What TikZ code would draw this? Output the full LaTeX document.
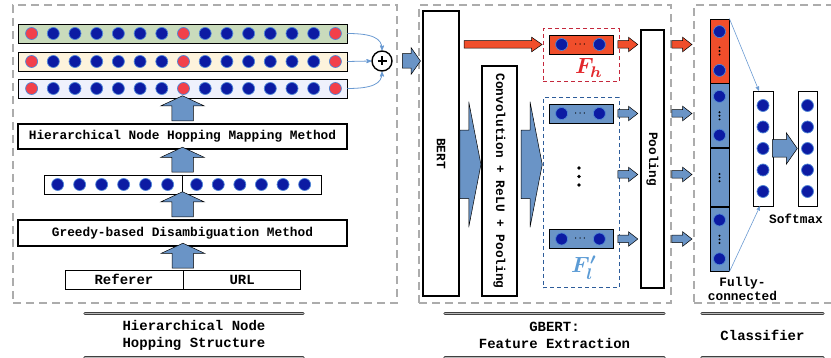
\documentclass[tikz,border=0pt]{standalone}
\usepackage{fontspec}
\setmonofont{Liberation Mono}
\usepackage{amsmath}
\usetikzlibrary{arrows,shapes.arrows,positioning,calc}

\definecolor{dotblue}{HTML}{0C1BA3}
\definecolor{dotring}{HTML}{4F86D6}
\definecolor{dotred}{HTML}{F2404A}
\definecolor{arrowblue}{HTML}{6A94C6}
\definecolor{hotred}{HTML}{F04E2B}
\definecolor{rowgreen}{HTML}{C9DBBC}
\definecolor{rowyellow}{HTML}{FDF3DC}
\definecolor{rowlilac}{HTML}{EFF1FC}
\definecolor{linkblue}{HTML}{6A9AD2}
\definecolor{fhred}{HTML}{C4283C}
\definecolor{fhtext}{HTML}{E3262B}
\definecolor{flblue}{HTML}{2D5C9A}
\definecolor{fltext}{HTML}{5B9BD5}

\tikzset{
  monotxt/.style={font=\fontsize{12.8}{14}\selectfont\ttfamily\bfseries},
  captxt/.style={font=\fontsize{14}{16.5}\selectfont\ttfamily\bfseries},
  dotb/.style={circle, fill=dotblue, draw=dotring, line width=0.7pt, minimum size=12pt, inner sep=0pt},
  dotr/.style={dotb, fill=dotred},
  vdot/.style={circle, fill=black, inner sep=0pt, minimum size=3.6pt},
  tdot/.style={circle, fill=black, inner sep=0pt, minimum size=2.2pt},
  rowbox/.style={draw, line width=0.8pt, minimum width=329pt, minimum height=19pt, inner sep=0pt},
  methodbox/.style={draw, line width=1.6pt, minimum width=329pt, minimum height=25pt, monotxt},
  plainbox/.style={draw, line width=0.7pt, inner sep=0pt},
  tallbox/.style={draw, line width=1.6pt, fill=white, inner sep=0pt},
  vecbox/.style={draw, line width=0.8pt, minimum width=64pt, minimum height=19pt, inner sep=0pt},
  segbox/.style={draw, line width=0.8pt, minimum width=19pt, inner sep=0pt},
  groupbox/.style={draw=gray!65, line width=1.3pt, dash pattern=on 8pt off 5pt, inner sep=0pt},
  fbox/.style={line width=1pt, dash pattern=on 4pt off 3pt, minimum width=76pt, inner sep=0pt},
  link/.style={->, draw=linkblue, line width=0.8pt},
  capline/.style={draw=black!75, line width=0.9pt, double=gray!55, double distance=1pt, line cap=round},
  barrow/.style={single arrow, draw, line width=0.5pt, fill=arrowblue, inner xsep=0pt, minimum width=0pt, single arrow head indent=0pt},
  uparrow/.style={barrow, rotate=90, inner ysep=10.5pt, single arrow head extend=11pt, minimum height=25pt, single arrow tip angle=130},
  wedge/.style={barrow, inner ysep=34pt, single arrow head extend=28.5pt, minimum height=21pt, single arrow tip angle=158},
  smallarrow/.style={barrow, inner ysep=3.5pt, single arrow head extend=3.5pt, minimum height=20pt, single arrow tip angle=76},
  longarrow/.style={barrow, fill=hotred, inner ysep=3.5pt, single arrow head extend=3.5pt, minimum height=78pt, single arrow tip angle=70},
  inarrow/.style={barrow, inner ysep=7pt, single arrow head extend=6pt, minimum height=18pt, single arrow tip angle=110},
  midarrow/.style={barrow, inner ysep=8.5pt, single arrow head extend=7pt, minimum height=25pt, single arrow tip angle=110}
}

\begin{document}
\begin{tikzpicture}[x=1pt, y=-1pt, >=stealth']
  \useasboundingbox (0,0) rectangle (831,358);

  % dashed groups
  \node[groupbox, minimum width=384pt, minimum height=298pt] (hns) at (205,154) {};
  \node[groupbox, minimum width=252pt, minimum height=298pt] (gbert) at (545,154) {};
  \node[groupbox, minimum width=220pt, minimum height=298pt] (cls) at (804,154) {};

  % hopping rows
  \node[rowbox, fill=rowgreen] (r1) at (182.5,33.5) {};
  \node[rowbox, fill=rowyellow] (r2) at (182.5,61.5) {};
  \node[rowbox, fill=rowlilac] (r3) at (182.5,88.5) {};
  \foreach \row in {r1,r2,r3} {
    \foreach \i in {2,3,4,5,6,7,9,10,11,12,13,14}
      \node[dotb] (\row-\i) at ($(\row.west)+({14+(\i-1)*21.7},0)$) {};
    \foreach \i in {1,8,15}
      \node[dotr] (\row-\i) at ($(\row.west)+({14+(\i-1)*21.7},0)$) {};
  }

  \node[circle, draw, line width=1.4pt, minimum size=20pt, inner sep=0pt] (plus) at (382,61) {};
  \draw[line width=1.8pt] ($(plus)+(-4.5,0)$) -- ($(plus)+(4.5,0)$) ($(plus)+(0,-4.5)$) -- ($(plus)+(0,4.5)$);
  \draw[link] (r1.east) .. controls +(25,0) and +(0,-12) .. (plus.north);
  \draw[link] (r2.east) -- (plus.west);
  \draw[link] (r3.east) .. controls +(25,0) and +(0,12) .. (plus.south);

  \node[methodbox] (hnhm) at (182.5,136.5) {Hierarchical Node Hopping Mapping Method};
  \node[plainbox, minimum width=277pt, minimum height=19pt] (seq) at (182.5,184.5) {};
  \draw[line width=0.7pt] (seq.north) -- (seq.south);
  \foreach \i in {1,...,6}
    \node[dotb] (s\i) at ($(seq.west)+({14+(\i-1)*22},0)$) {};
  \foreach \i in {7,...,12}
    \node[dotb] (s\i) at ($(seq.west)+({153+(\i-7)*21.6},0)$) {};
  \node[methodbox, minimum height=26pt] (greedy) at (182.5,233) {Greedy-based Disambiguation Method};
  \node[plainbox, captxt, minimum width=118pt, minimum height=19pt] (ref) at (124,279.5) {Referer};
  \node[plainbox, captxt, minimum width=117pt, minimum height=19pt, right=0pt of ref] (url) {URL};

  \node[uparrow] (u1) at ($(r3.south)!0.5!(hnhm.north)$) {};
  \node[uparrow] (u2) at ($(hnhm.south)!0.5!(seq.north)$) {};
  \node[uparrow] (u3) at ($(seq.south)!0.5!(greedy.north)$) {};
  \node[uparrow] (u4) at ($(greedy.south)!0.5!(ref.north east)$) {};

  % GBERT
  \node[tallbox, minimum width=36pt, minimum height=285pt] (bert) at (441,153.5) {};
  \node[monotxt, rotate=-90] (berttxt) at (bert) {BERT};
  \node[inarrow] (a0) at ($(plus.east)!0.55!(bert.west |- plus)$) {};
  \node[tallbox, minimum width=35pt, minimum height=230pt] (conv) at (499.5,181) {};
  \node[monotxt, rotate=-90] (convtxt) at (conv) {Convolution + ReLU + Pooling};
  \node[tallbox, minimum width=23pt, minimum height=258pt] (pool) at (652.5,159) {};
  \node[monotxt, rotate=-90] (pooltxt) at (pool) {Pooling};

  \node[fbox, draw=fhred, minimum height=53pt] (fhg) at (581,55.5) {};
  \node[vecbox, fill=hotred] (fh) at (581,44.5) {};
  \node[dotb] (fha) at ($(fh.west)+(13,0)$) {};
  \node[dotb] (fhb) at ($(fh.east)+(-14,0)$) {};
  \node[font=\footnotesize] (fhd) at (fh) {$\boldsymbol{\cdots}$};
  \node[text=fhtext, scale=2.2] (fhlbl) at (589,68) {$\boldsymbol{F_h}$};

  \node[fbox, draw=flblue, minimum height=190pt] (flg) at (581,193) {};
  \node[vecbox, fill=arrowblue] (fl1) at (581,113.5) {};
  \node[dotb] (fl1a) at ($(fl1.west)+(13,0)$) {};
  \node[dotb] (fl1b) at ($(fl1.east)+(-14,0)$) {};
  \node[font=\footnotesize] (fl1d) at (fl1) {$\boldsymbol{\cdots}$};
  \node[vecbox, fill=arrowblue] (fl2) at (581,239) {};
  \node[dotb] (fl2a) at ($(fl2.west)+(13,0)$) {};
  \node[dotb] (fl2b) at ($(fl2.east)+(-14,0)$) {};
  \node[font=\footnotesize] (fl2d) at (fl2) {$\boldsymbol{\cdots}$};
  \foreach \y/\n in {168/1,176.5/2,185/3}
    \node[vdot] (vd\n) at (579,\y) {};
  \node[text=fltext, scale=2.2] (fllbl) at (584,268) {$\boldsymbol{F'_l}$};

  \node[wedge, anchor=tip] (w1) at ($(conv.west)+(0,-16.5)$) {};
  \node[wedge, anchor=tip] (w2) at (flg.west |- w1.tip) {};
  \node[longarrow, anchor=tip] (ra) at (fhg.west |- fh) {};

  \node[smallarrow, fill=hotred, anchor=tip] (p0) at ($(pool.west |- fh)+(-2,0)$) {};
  \node[smallarrow, anchor=tip] (p1) at ($(pool.west |- fl1)+(-2,0)$) {};
  \node[smallarrow, anchor=tip] (p2) at ($(pool.west |- vd2)+(-2,-2)$) {};
  \node[smallarrow, anchor=tip] (p3) at ($(pool.west |- fl2)+(-2,0)$) {};
  \node[smallarrow, fill=hotred, anchor=tip] (q0) at ($(cls.west |- fh)+(-1,0)$) {};
  \node[smallarrow, anchor=tip] (q1) at ($(cls.west |- fl1)+(-1,0)$) {};
  \node[smallarrow, anchor=tip] (q2) at ($(cls.west |- vd2)+(-1,-2)$) {};
  \node[smallarrow, anchor=tip] (q3) at ($(cls.west |- fl2)+(-1,0)$) {};

  % classifier
  \node[segbox, fill=hotred, minimum height=64pt] (fc1) at (719.5,51) {};
  \node[segbox, fill=arrowblue, minimum height=64pt, below=0pt of fc1] (fc2) {};
  \node[segbox, fill=arrowblue, minimum height=58pt, below=0pt of fc2] (fc3) {};
  \node[segbox, fill=arrowblue, minimum height=64pt, below=0pt of fc3] (fc4) {};
  \foreach \s in {fc1,fc2,fc4} {
    \node[dotb] (\s a) at ($(\s.north)+(0,13)$) {};
    \node[dotb] (\s b) at ($(\s.south)+(0,-13)$) {};
  }
  \foreach \s in {fc1,fc2,fc3,fc4}
    \foreach \k in {-1,0,1}
      \node[tdot] (\s d\k) at ($(\s)+(0,{3.6*\k})$) {};

  \node[segbox, fill=white, minimum width=20pt, minimum height=115pt] (hid) at (763,148.5) {};
  \node[segbox, fill=white, minimum height=115pt] (sm) at (807.5,148.5) {};
  \foreach \i in {1,...,5} {
    \node[dotb] (hid\i) at ($(hid)+(0,{(\i-3)*21.5})$) {};
    \node[dotb] (sm\i) at ($(sm)+(0,{(\i-3)*21.5})$) {};
  }
  \node[midarrow, anchor=tip] (ca) at (sm.west) {};
  \draw[link, line width=0.6pt] (fc1.north east) -- ($(hid.north west)!0.6!(hid.north)$);
  \draw[link, line width=0.6pt] (fc4.south east) -- ($(hid.south west)!0.7!(hid.south)$);
  \node[monotxt] (smtxt) at (796,219) {Softmax};
  \node[monotxt, align=center] (fctxt) at (742.5,289) {Fully-\\connected};

  % captions
  \node[captxt, align=center, minimum width=218pt, minimum height=43pt] (capL) at (194,335.5) {Hierarchical Node\\Hopping Structure};
  \node[captxt, align=center, minimum width=219pt, minimum height=43pt] (capM) at (554.5,335.5) {GBERT:\\Feature Extraction};
  \node[captxt, align=center, minimum width=121pt, minimum height=43pt] (capR) at (762.5,335.5) {Classifier};
  \foreach \c in {capL,capM,capR} {
    \draw[capline] (\c.north west) -- (\c.north east);
    \draw[capline] (\c.south west) -- (\c.south east);
  }
\end{tikzpicture}
\end{document}
